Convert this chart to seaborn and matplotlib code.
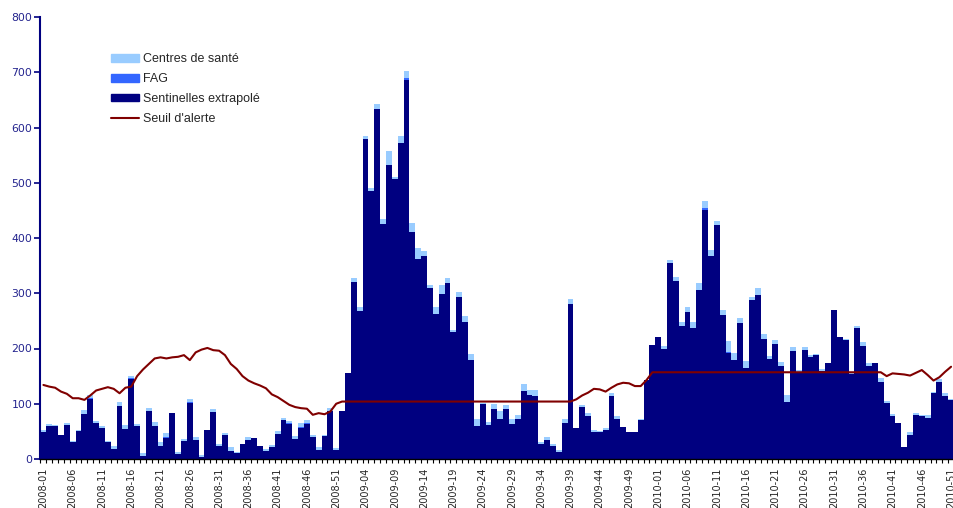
import numpy as np
import pandas as pd
import seaborn as sns
import matplotlib.pyplot as plt
from matplotlib.patches import Patch
from matplotlib.lines import Line2D

# weeks shown on the category axis
weeks_per_year = {2008: 52, 2009: 53, 2010: 51}
semaines = [f"{y}-{w:02d}" for y, n in weeks_per_year.items() for w in range(1, n + 1)]

# Sentinelles extrapolé (bottom, navy)
sentinelles = [
    # 2008
    49, 60, 59, 43, 62, 30, 50, 82, 109, 66, 57, 30, 18, 96, 55, 145, 60, 6, 86, 60,
    23, 38, 83, 9, 32, 101, 35, 3, 53, 85, 23, 44, 15, 11, 27, 35, 38, 24, 15, 21,
    45, 70, 64, 36, 56, 63, 40, 16, 42, 86, 17, 86,
    # 2009
    156, 321, 267, 579, 485, 633, 425, 532, 506, 572, 686, 411, 362, 367, 310, 262, 298, 319, 229, 293,
    248, 180, 60, 99, 61, 91, 72, 91, 63, 73, 123, 115, 114, 28, 34, 24, 12, 65, 281, 57,
    94, 77, 49, 48, 52, 114, 73, 58, 48, 48, 70, 143, 206,
    # 2010
    220, 199, 354, 322, 240, 266, 238, 305, 451, 367, 424, 261, 191, 180, 247, 164, 287, 297, 217, 181,
    209, 168, 104, 195, 158, 198, 185, 188, 159, 173, 269, 220, 215, 153, 237, 205, 169, 174, 139, 102,
    78, 66, 21, 44, 79, 78, 75, 119, 139, 114, 106,
]

# FAG (middle, bright blue) - only a few units on some weeks
fag = [
    0, 0, 0, 0, 0, 0, 0, 0, 2, 0, 0, 0, 0, 0, 0, 2, 0, 0, 0, 0,
    0, 2, 0, 0, 0, 2, 0, 0, 0, 0, 0, 0, 0, 0, 0, 0, 0, 0, 0, 0,
    0, 1, 2, 0, 2, 2, 0, 0, 0, 0, 0, 0,
    0, 0, 0, 0, 0, 0, 0, 0, 0, 0, 3, 0, 0, 0, 0, 0, 0, 0, 0, 0,
    0, 0, 0, 0, 0, 0, 0, 0, 0, 0, 0, 0, 0, 0, 0, 0, 0, 0, 0, 0,
    0, 0, 0, 0, 0, 0, 0, 0, 0, 0, 0, 0, 0,
    0, 0, 0, 0, 0, 0, 0, 0, 3, 0, 0, 0, 3, 0, 0, 0, 0, 0, 0, 0,
    0, 0, 0, 0, 0, 0, 0, 0, 0, 0, 0, 0, 0, 0, 0, 0, 0, 0, 0, 0,
    0, 0, 0, 0, 0, 0, 0, 0, 0, 0, 0,
]

# Centres de santé (top, light blue)
centres = [
    3, 4, 2, 1, 4, 3, 3, 6, 5, 2, 3, 3, 6, 7, 7, 4, 3, 5, 6, 7,
    8, 7, 0, 4, 4, 5, 4, 5, 0, 5, 5, 3, 6, 1, 0, 5, 0, 0, 4, 4,
    5, 4, 2, 5, 7, 6, 4, 5, 2, 6, 3, 1,
    0, 6, 9, 6, 6, 10, 9, 25, 5, 13, 14, 17, 19, 9, 5, 14, 17, 8, 4, 10,
    10, 10, 13, 2, 6, 9, 15, 7, 10, 7, 12, 9, 10, 3, 6, 3, 4, 7, 9, 0,
    3, 6, 3, 3, 4, 5, 4, 0, 0, 0, 3, 0, 0,
    0, 6, 6, 7, 8, 9, 10, 13, 13, 11, 7, 9, 20, 11, 9, 13, 7, 13, 10, 5,
    6, 7, 12, 8, 3, 4, 3, 2, 4, 0, 0, 0, 3, 3, 3, 6, 4, 0, 8, 3,
    3, 0, 0, 5, 4, 2, 4, 3, 6, 5, 3,
]

# Seuil d'alerte
seuil = [
    134, 131, 129, 122, 118, 110, 110, 107, 115, 124, 127, 130, 127, 119, 129, 131, 150, 162, 172, 182,
    184, 182, 184, 185, 188, 179, 193, 198, 201, 197, 196, 188, 172, 163, 150, 142, 137, 133, 128, 117,
    112, 105, 98, 94, 92, 91, 80, 83, 81, 86, 100, 104,
    104, 104, 104, 104, 104, 104, 104, 104, 104, 104, 104, 104, 104, 104, 104, 104, 104, 104, 104, 104,
    104, 104, 104, 104, 104, 104, 104, 104, 104, 104, 104, 104, 104, 104, 104, 104, 104, 104, 104, 108,
    115, 120, 127, 126, 122, 129, 135, 138, 137, 132, 132, 143, 157,
    157, 157, 157, 157, 157, 157, 157, 157, 157, 157, 157, 157, 157, 157, 157, 157, 157, 157, 157, 157,
    157, 157, 157, 157, 157, 157, 157, 157, 157, 157, 157, 157, 157, 157, 157, 157, 157, 157, 157, 150,
    155, 154, 153, 151, 156, 161, 152, 142, 148, 158, 167,
]

df = pd.DataFrame({'semaine': semaines, 'sentinelles': sentinelles, 'fag': fag,
                   'centres': centres, 'seuil': seuil})
df['pos'] = np.arange(len(df))
df['bas'] = df['sentinelles'] + df['fag']
df['total'] = df['bas'] + df['centres']

sns.set_theme(style='white')
plt.rcParams['font.family'] = ['DejaVu Sans']

fig = plt.figure(figsize=(9.54, 5.08), dpi=100)
ax = fig.add_axes([40.5 / 954, 1 - 459 / 508, (954 - 40.5) / 954, 442 / 508])

# stacked bars drawn as overlapping cumulative bars
bar_kw = dict(width=1.0, linewidth=0, saturation=1, errorbar=None, native_scale=True, ax=ax)
sns.barplot(data=df, x='pos', y='total', color='#99CCFF', **bar_kw)
sns.barplot(data=df, x='pos', y='bas', color='#3366FF', **bar_kw)
sns.barplot(data=df, x='pos', y='sentinelles', color='#000080', **bar_kw)
sns.lineplot(data=df, x='pos', y='seuil', color='#800000', linewidth=1.5, ax=ax)

ax.set_xlim(-0.5, 155.1)
ax.set_ylim(0, 800)
ax.set_yticks(range(0, 801, 100))
ax.set_xticks(df['pos'][::5])
ax.set_xticklabels(df['semaine'][::5], rotation=90, fontsize=7)
ax.set_xticks(np.arange(-0.5, len(df), 1), minor=True)
ax.tick_params(axis='x', which='major', length=0, pad=6)
ax.tick_params(axis='x', which='minor', length=3, width=0.8, color='black', bottom=True)
ax.tick_params(axis='y', length=4, width=1.2, color='#000080', labelcolor='#23238e',
               labelsize=7.8, left=True, pad=2)
ax.set_xlabel('')
ax.set_ylabel('')

for side in ['top', 'right']:
    ax.spines[side].set_visible(False)
ax.spines['left'].set_color('#000080')
ax.spines['left'].set_linewidth(1.5)
ax.spines['bottom'].set_color('black')
ax.spines['bottom'].set_linewidth(1)

handles = [Patch(color='#99CCFF'), Patch(color='#3366FF'), Patch(color='#000080'),
           Line2D([], [], color='#800000', lw=1.5)]
labels = ['Centres de santé', 'FAG', 'Sentinelles extrapolé', "Seuil d'alerte"]
fig.legend(handles, labels, loc='upper left', bbox_to_anchor=(111 / 954, 1 - 53.5 / 508),
           frameon=False, handlelength=2.24, handleheight=0.55,
           handletextpad=0.3, labelspacing=0.62, borderpad=0, borderaxespad=0,
           prop={'family': 'Liberation Sans', 'size': 9})

fig.savefig('out.png', dpi=100)
